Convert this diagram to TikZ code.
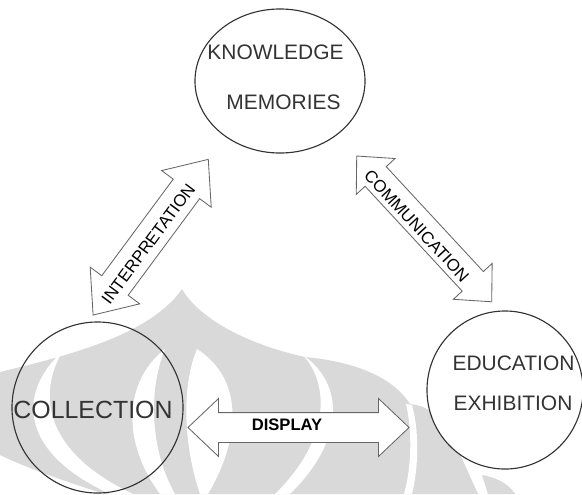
\documentclass[tikz,border=0pt]{standalone}
\usepackage{fontspec}
\setmainfont{Liberation Sans}
\usetikzlibrary{shapes.geometric,shapes.arrows}

\tikzset{
  ring/.style={draw=black!80, line width=0.8pt, inner sep=0pt},
  lbl/.style={text=black!80, inner sep=0pt, font=\fontsize{14.9}{18}\selectfont},
  arrowtxt/.style={text=black, inner sep=0pt, font=\fontsize{12}{14}\selectfont},
  blockarrow/.style={double arrow, draw=black!60, fill=white, line width=0.6pt, inner xsep=0pt},
  wm/.style={fill=black!15}
}

\begin{document}
\begin{tikzpicture}[x=0.025cm, y=-0.025cm]
    \useasboundingbox (0,0) rectangle (582,494);

    % Watermark behind the diagram
    \fill[wm] (0,372) .. controls (70,355) and (150,335) .. (182,289)
      .. controls (200,320) and (250,345) .. (305,357)
      .. controls (360,362) and (395,380) .. (410,404)
      .. controls (425,405) and (440,415) .. (450,432)
      -- (478,494) -- (105,494) .. controls (60,480) and (20,465) .. (0,455) -- cycle;
    \fill[wm] (482,475) .. controls (500,478) and (510,486) .. (515,494) -- (488,494) -- cycle;
    \fill[white] (62,352) .. controls (20,390) and (15,450) .. (110,494) -- (133,494) .. controls (50,455) and (35,400) .. (62,352) -- cycle;
    \fill[white] (165,349) .. controls (125,380) and (120,440) .. (160,494) -- (175,494) .. controls (150,450) and (148,390) .. (165,349) -- cycle;
    \fill[white] (197,349) .. controls (245,380) and (240,440) .. (208,494) -- (200,494) .. controls (185,450) and (180,390) .. (197,349) -- cycle;
    \fill[white] (303,355) .. controls (330,385) and (330,440) .. (275,494) -- (290,494) .. controls (345,440) and (345,385) .. (303,355) -- cycle;
    \fill[white] (406,404) .. controls (412,430) and (412,465) .. (404,494) -- (412,494) .. controls (419,465) and (419,430) .. (412,405) -- cycle;

    % The three circles
    \node[ring, ellipse, minimum width=4.25cm, minimum height=3.6cm] (know) at (280,81) {};
    \node[ring, circle, minimum size=4.275cm] (coll) at (97.5,407.5) {};
    \node[ring, ellipse, fill=white, minimum width=3.9cm, minimum height=3.95cm] (edu) at (505,390) {};

    \node[lbl] (knowtxt) at (275.5,52) {KNOWLEDGE};
    \node[lbl] (memtxt) at (283.5,102) {MEMORIES};
    \node[lbl, font=\fontsize{17.7}{20}\selectfont] (colltxt) at (93,410) {COLLECTION};
    \node[lbl] (edutxt) at (513.5,363) {EDUCATION};
    \node[lbl] (exhtxt) at (513,403) {EXHIBITION};

    % Block arrows between the circles
    \node[blockarrow, rotate=53.5, minimum height=4.84cm, inner ysep=0.4cm,
      double arrow head extend=0.36cm, double arrow tip angle=80] (interp) at (150.7,237.2) {};
    \node[arrowtxt, rotate=53.5] (interptxt) at (148.3,244) {INTERPRETATION};

    \node[blockarrow, rotate=-47.2, minimum height=4.965cm, inner ysep=0.35cm,
      double arrow head extend=0.3cm, double arrow tip angle=87] (comm) at (424.2,228.9) {};
    \node[arrowtxt, rotate=-47.2] (commtxt) at (416.7,225.8) {COMMUNICATION};

    \node[blockarrow, minimum height=5.525cm, inner ysep=0.3625cm,
      double arrow head extend=0.35cm, double arrow tip angle=87] (disp) at (298.5,427.5) {};
    \node[arrowtxt, font=\bfseries\fontsize{11.8}{14}\selectfont] (disptxt) at (287,425) {DISPLAY};
\end{tikzpicture}
\end{document}
